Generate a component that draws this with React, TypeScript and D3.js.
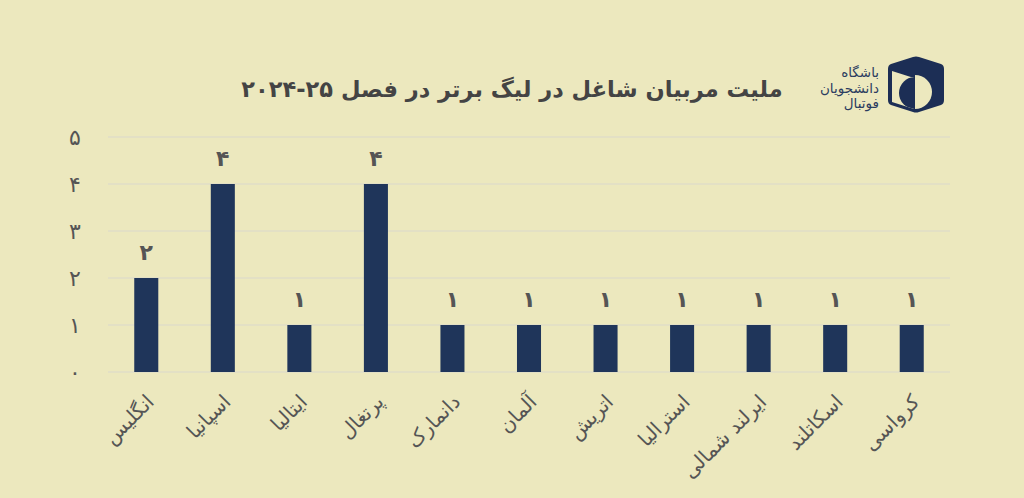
import React from "react";
import * as d3 from "d3";

const categories = ["انگلیس", "اسپانیا", "ایتالیا", "پرتغال", "دانمارک", "آلمان", "اتریش", "استرالیا", "ایرلند شمالی", "اسکاتلند", "کرواسی"];
const values = [2, 4, 1, 4, 1, 1, 1, 1, 1, 1, 1];
const yTicks = [0, 1, 2, 3, 4, 5];
const title = "ملیت مربیان شاغل در لیگ برتر در فصل \u2066۲۰۲۴-۲۵\u2069";
const logoLines = ["باشگاه", "دانشجویان", "فوتبال"];

const W = 1024;
const H = 498;
const BG = "#ECE8BE";
const BAR = "#1F355A";
const TXT = "#555555";
const FONT = "'DejaVu Sans', sans-serif";

const fa = (n: number) => String(n).replace(/\d/g, (d) => "۰۱۲۳۴۵۶۷۸۹"[+d]);

export default function App() {
  const x = d3.scaleBand<string>().domain(categories).range([108, 950]).paddingInner(0.686).paddingOuter(0.343);
  const y = d3.scaleLinear().domain([0, 5]).range([372, 137]);
  const bw = x.bandwidth();

  return (
    <svg width={W} height={H} style={{ position: "absolute", left: 0, top: 0, background: BG }} fontFamily={FONT}>
      <rect x={0} y={0} width={W} height={H} fill={BG} />
      {/* gridlines */}
      {yTicks.map((t) => (
        <line key={"g" + t} x1={108} x2={950} y1={y(t)} y2={y(t)} stroke="#D9D7CB" strokeWidth={1.2} />
      ))}
      {/* y tick labels */}
      {yTicks.map((t) => (
        <text key={"yt" + t} x={75} y={y(t) + 8} textAnchor="middle" fontSize={22} fill={TXT}>
          {fa(t)}
        </text>
      ))}
      {/* bars */}
      {categories.map((c, i) => (
        <rect key={"b" + c} x={x(c)!} y={y(values[i])} width={bw} height={y(0) - y(values[i])} fill={BAR} />
      ))}
      {/* value labels */}
      {categories.map((c, i) => (
        <text key={"v" + c} x={x(c)! + bw / 2} y={y(values[i]) - 18} textAnchor="middle" fontSize={22} fontWeight="bold" fill={TXT}>
          {fa(values[i])}
        </text>
      ))}
      {/* category labels */}
      {categories.map((c) => {
        const cx = x(c)! + bw / 2 + 9;
        const cy = 403;
        return (
          <text key={"c" + c} x={cx} y={cy} textAnchor="end" fontSize={20} fill={TXT} transform={`rotate(-45 ${cx} ${cy})`}>
            {c}
          </text>
        );
      })}
      {/* title */}
      <text x={512} y={97} textAnchor="middle" direction="rtl" fontSize={22.5} fontWeight="bold" fill="#444444">
        {title}
      </text>
      {/* logo text */}
      {logoLines.map((l, i) => (
        <text key={"l" + i} x={879} y={77 + i * 15.5} textAnchor="end" fontSize={13.5} fill="#2B3C60">
          {l}
        </text>
      ))}
      {/* logo icon */}
      <g>
        <path
          d="M891,64 Q888,65 888,69 L888,100 Q888,104 891,105 L913,112 Q916,113 919,112 L941,105 Q944,104 944,100 L944,69 Q944,65 941,64 L919,57 Q916,56 913,57 Z"
          fill="#1C2E55"
        />
        <path d="M892,71 L914,78 L914,109 L892,102 Z" fill={BG} />
        <clipPath id="lf">
          <path d="M892,71 L914,78 L914,109 L892,102 Z" />
        </clipPath>
        <clipPath id="rf">
          <rect x={915} y={60} width={30} height={55} />
        </clipPath>
        <circle cx={915} cy={93} r={16} fill="#1C2E55" clipPath="url(#lf)" />
        <circle cx={915} cy={92} r={17} fill={BG} clipPath="url(#rf)" />
      </g>
    </svg>
  );
}
